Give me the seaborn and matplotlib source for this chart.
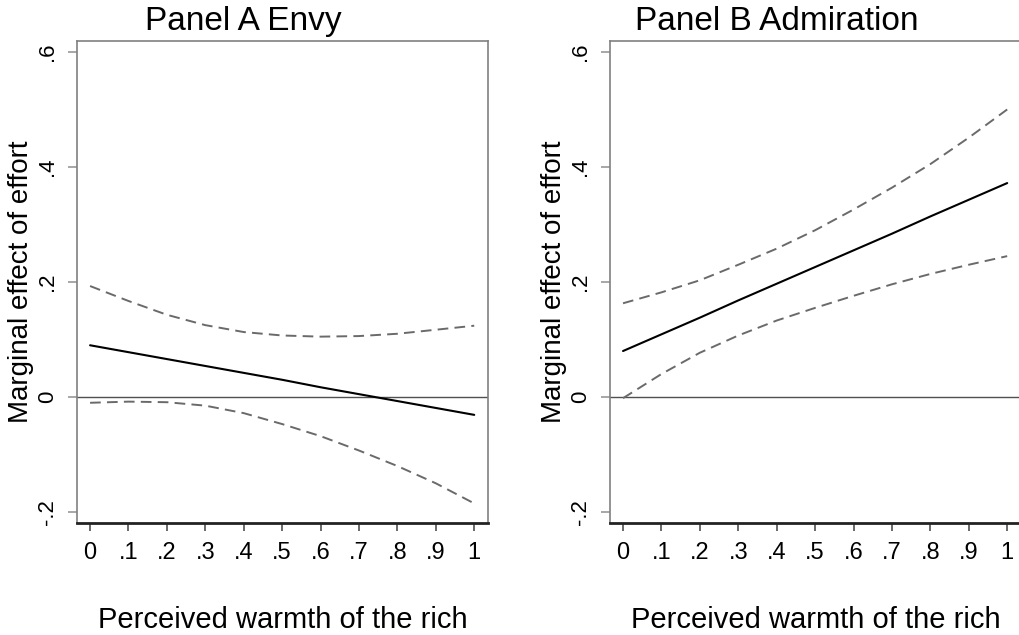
import numpy as np
import pandas as pd
import matplotlib
matplotlib.use('Agg')
import matplotlib.pyplot as plt
import seaborn as sns

sns.set_style('white')
plt.rcParams['font.family'] = ['Liberation Sans', 'DejaVu Sans']
plt.rcParams['text.color'] = 'black'
plt.rcParams['axes.labelcolor'] = 'black'

# Perceived warmth of the rich (x grid)
warmth = [0.0, 0.1, 0.2, 0.3, 0.4, 0.5, 0.6, 0.7, 0.8, 0.9, 1.0]

# Panel A Envy: marginal effect of effort and 95% CI bounds
envy_effect = [0.090, 0.078, 0.066, 0.054, 0.042, 0.030, 0.017, 0.005, -0.007, -0.019, -0.031]
envy_upper = [0.193, 0.167, 0.143, 0.125, 0.113, 0.107, 0.105, 0.106, 0.110, 0.117, 0.124]
envy_lower = [-0.010, -0.008, -0.009, -0.015, -0.028, -0.047, -0.068, -0.093, -0.120, -0.150, -0.185]

# Panel B Admiration
adm_effect = [0.080, 0.109, 0.138, 0.168, 0.197, 0.226, 0.255, 0.284, 0.314, 0.343, 0.372]
adm_upper = [0.163, 0.182, 0.203, 0.230, 0.258, 0.290, 0.326, 0.364, 0.405, 0.451, 0.500]
adm_lower = [-0.002, 0.040, 0.077, 0.107, 0.133, 0.155, 0.176, 0.196, 0.214, 0.230, 0.245]

x_ticks = [0, 0.1, 0.2, 0.3, 0.4, 0.5, 0.6, 0.7, 0.8, 0.9, 1]
x_ticklabels = ['0', '.1', '.2', '.3', '.4', '.5', '.6', '.7', '.8', '.9', '1']
y_ticks = [-0.2, 0, 0.2, 0.4, 0.6]
y_ticklabels = ['-.2', '0', '.2', '.4', '.6']

panels = [
    ('Panel A Envy', envy_effect, envy_upper, envy_lower),
    ('Panel B Admiration', adm_effect, adm_upper, adm_lower),
]

fig = plt.figure(figsize=(10.2, 6.35), dpi=100)
ax_rects = [[0.0755, 0.1764, 0.403, 0.759], [0.598, 0.1764, 0.403, 0.759]]
title_x = [0.239, 0.762]
dash = (0, (5.5, 3.2))

for i, (title, eff, up, lo) in enumerate(panels):
    ax = fig.add_axes(ax_rects[i])
    df = pd.DataFrame({'x': warmth, 'effect': eff, 'upper': up, 'lower': lo})

    ax.axhline(0, color='#505050', lw=1.0, zorder=1)
    sns.lineplot(data=df, x='x', y='upper', ax=ax, color='#6a6a6a', lw=1.4,
                 linestyle=dash)
    sns.lineplot(data=df, x='x', y='lower', ax=ax, color='#6a6a6a', lw=1.4,
                 linestyle=dash)
    sns.lineplot(data=df, x='x', y='effect', ax=ax, color='black', lw=1.5)

    ax.set_xlim(-0.034, 1.036)
    ax.set_ylim(-0.219, 0.619)
    ax.set_xticks(x_ticks)
    ax.set_xticklabels(x_ticklabels, fontsize=17)
    ax.set_yticks(y_ticks)
    ax.set_yticklabels(y_ticklabels, fontsize=16, rotation=90, va='center')

    ax.tick_params(axis='x', direction='out', length=6, width=1.1, color='#404040',
                   labelcolor='black', pad=8, bottom=True)
    ax.tick_params(axis='y', direction='out', length=6.5, width=1.1, color='#909090',
                   labelcolor='black', pad=7, left=True)

    for side in ['top', 'right', 'left']:
        ax.spines[side].set_color('#808080')
        ax.spines[side].set_linewidth(1.2)
    ax.spines['bottom'].set_color('#222222')
    ax.spines['bottom'].set_linewidth(2.0)

    ax.set_xlabel('Perceived warmth of the rich', fontsize=21, labelpad=30)
    ax.set_ylabel('Marginal effect of effort', fontsize=20, labelpad=2)

    fig.text(title_x[i], 0.953, title, fontsize=24, ha='center', va='baseline')

fig.savefig('out.png', dpi=100, facecolor='white')
